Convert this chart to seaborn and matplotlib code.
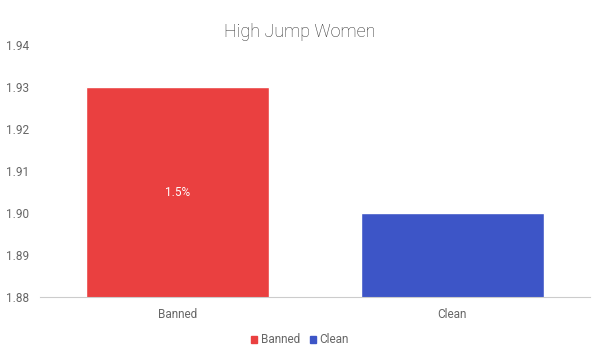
import matplotlib
matplotlib.use("Agg")
import matplotlib.pyplot as plt
import seaborn as sns
import pandas as pd

categories = ["Banned", "Clean"]
heights = [1.93, 1.90]
colors = ["#EA4040", "#3D55C7"]
bar_labels = ["1.5%", ""]
yticks = [1.88, 1.89, 1.90, 1.91, 1.92, 1.93, 1.94]

sns.set_style("white")
plt.rcParams["font.family"] = ["Roboto", "DejaVu Sans"]

df = pd.DataFrame({"Group": categories, "Height": heights})

fig = plt.figure(figsize=(6, 3.55), dpi=100)
ax = fig.add_axes([0.067, 0.163, 0.916, 0.71])

sns.barplot(data=df, x="Group", y="Height", hue="Group", palette=colors,
            width=0.665, saturation=1, legend=False, ax=ax)

ax.set_ylim(1.88, 1.94)
ax.set_yticks(yticks)
ax.set_yticklabels(["%.2f" % t for t in yticks])
ax.set_xlabel("")
ax.set_ylabel("")
ax.tick_params(axis="both", length=0, labelsize=8.5, colors="#666666")
ax.tick_params(axis="y", pad=8)
ax.tick_params(axis="x", pad=8)
for s in ["top", "right", "left"]:
    ax.spines[s].set_visible(False)
ax.spines["bottom"].set_color("#cccccc")

for i, lab in enumerate(bar_labels):
    if lab:
        ax.text(i, (1.88 + heights[i]) / 2, lab, ha="center", va="center",
                color="white", fontsize=8.5)

fig.text(0.5, 0.91, "High Jump Women", ha="center", va="center",
         fontsize=13, color="#333333", fontweight="light")

handles = [plt.Rectangle((0, 0), 1, 1, color=c) for c in colors]
fig.legend(handles, categories, loc="center", bbox_to_anchor=(0.5, 0.043),
           ncol=2, frameon=False, fontsize=8.5, handlelength=0.55,
           handleheight=0.55, handletextpad=0.3, columnspacing=0.8,
           labelcolor="#666666")

plt.savefig("out.png", dpi=100)
plt.close()
